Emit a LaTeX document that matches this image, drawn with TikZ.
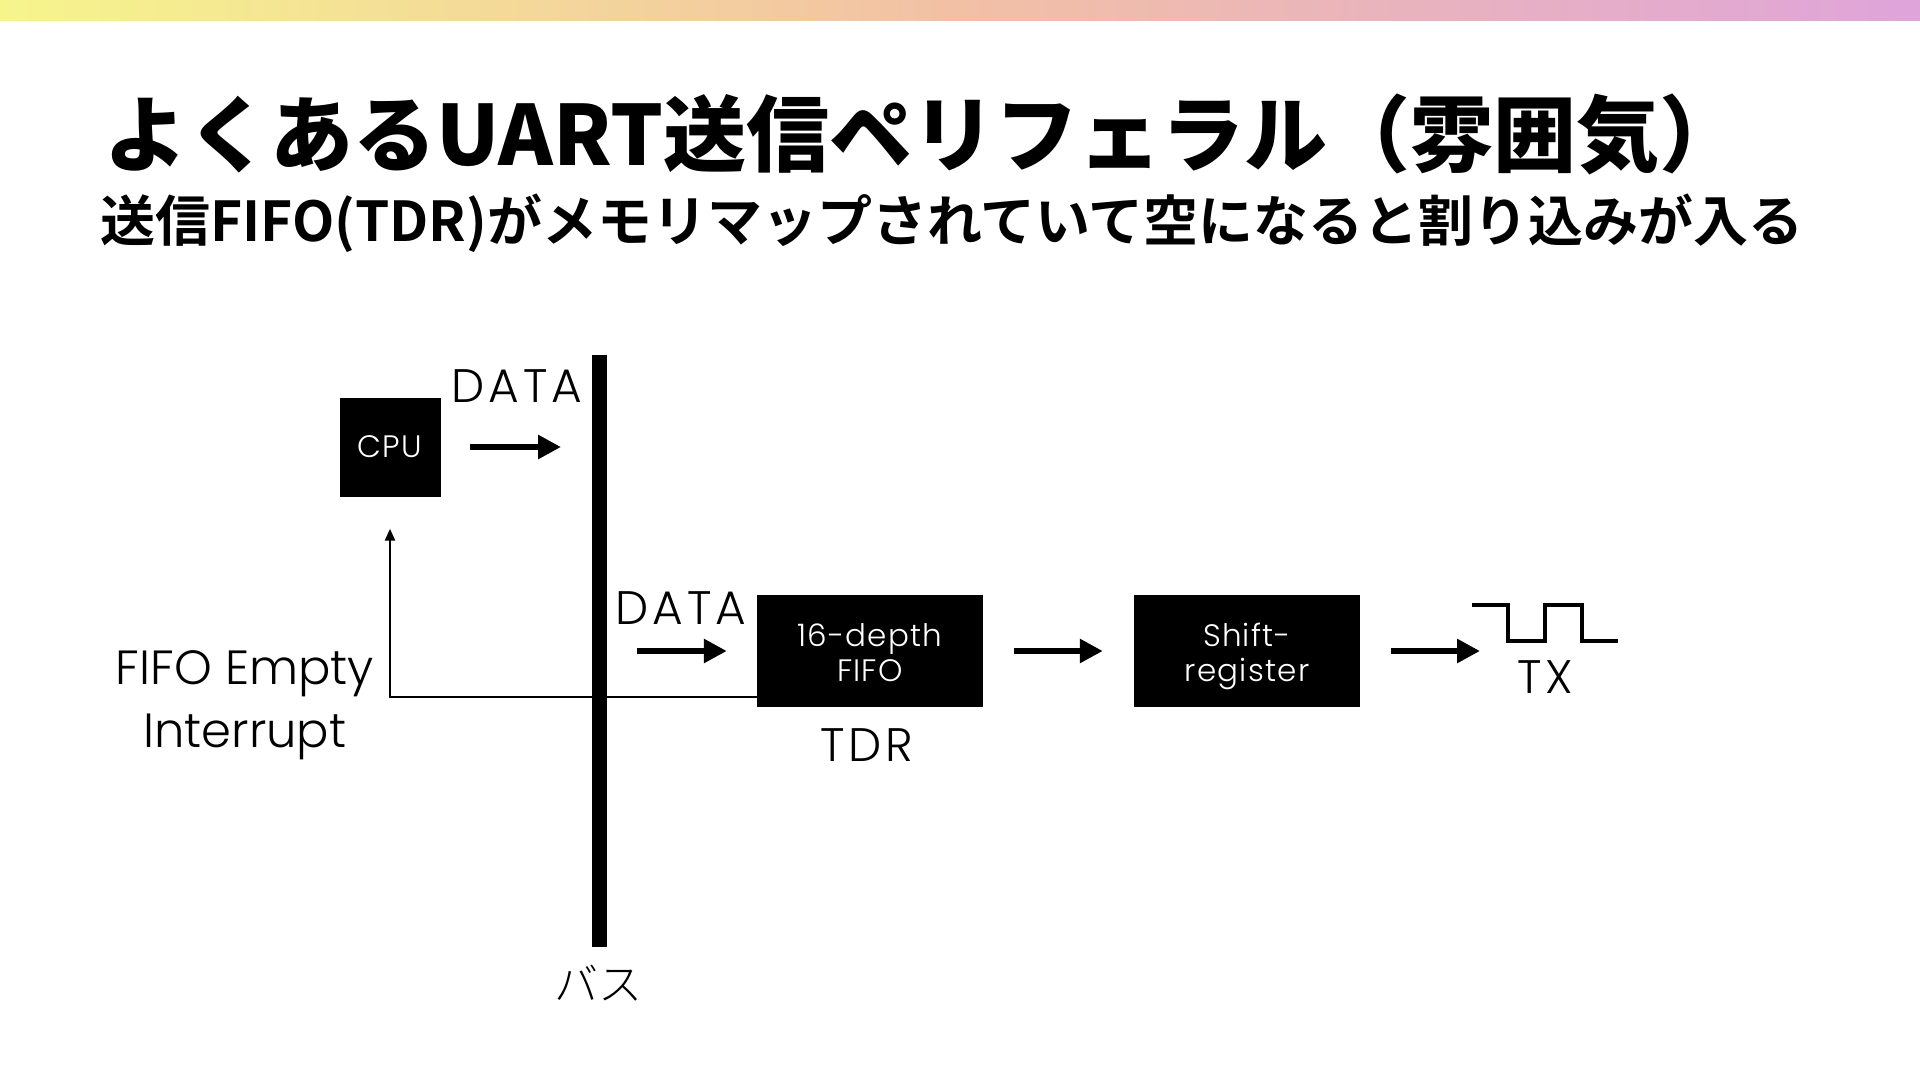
\documentclass[tikz,border=0pt]{standalone}
\usepackage{fontspec}
\usetikzlibrary{arrows.meta,positioning}
\newfontfamily\titlefont{Noto Sans CJK JP Black}
\newfontfamily\subfont{Noto Sans CJK JP Bold}
\newfontfamily\lblfont{Poppins Light}
\newfontfamily\capsfont{Poppins Light}[LetterSpace=8]
\newfontfamily\boxfont{Poppins Light}[LetterSpace=4]
\newfontfamily\jplight{Noto Sans CJK JP Light}
\newcommand{\tallstrut}{\rule{0pt}{36pt}}
\definecolor{barleft}{RGB}{246,245,140}
\definecolor{barmid}{RGB}{242,192,165}
\definecolor{barright}{RGB}{223,164,218}
\tikzset{
  blk/.style={draw=none, fill=black, text=white, align=center, minimum width=226pt, minimum height=112pt, inner sep=0pt, font=\boxfont\fontsize{31}{35}\selectfont},
  lbl/.style={inner sep=0pt, align=center, font=\lblfont\fontsize{48}{63}\selectfont},
  capslbl/.style={inner sep=0pt, font=\capsfont\fontsize{47}{56}\selectfont},
  bigarrow/.style={-{Triangle[length=23pt,width=23pt]}, line width=6.5pt},
  thinarrow/.style={-{Triangle[length=12pt,width=10pt]}, line width=2.5pt},
  busline/.style={line width=15pt},
  wave/.style={line width=3.5pt}
}

\begin{document}
\begin{tikzpicture}[x=1pt, y=-1pt]
  \fill[white] (0,0) rectangle (1920,1080);
  \useasboundingbox (0,0) rectangle (1920,1080);
  \shade[left color=barleft, right color=barright, middle color=barmid] (0,0) rectangle (1920,20);

  % headings
  \node[anchor=base west, inner sep=0pt, font=\titlefont\fontsize{83}{90}\selectfont] (title) at (104,165) {よくあるUART送信ペリフェラル（雰囲気）};
  \node[anchor=base west, inner sep=0pt, font=\subfont\fontsize{55}{64}\selectfont] (subtitle) at (100,241) {送信FIFO(TDR)がメモリマップされていて空になると割り込みが入る};

  % bus and blocks
  \coordinate (bustop) at (599,355);
  \coordinate (busbot) at (599,947);
  \draw[busline] (bustop) -- (busbot);
  \node[inner sep=0pt, font=\jplight\fontsize{44}{44}\selectfont] (buslbl) at (598,983) {バス};
  \node[blk, minimum width=101pt, minimum height=99pt] (cpu) at (390,447) {CPU};
  \node[blk] (fifo) at (870,651) {16-depth\tallstrut\\FIFO\strut};
  \node[blk] (shift) at (1247,651) {Shift-\tallstrut\\register\strut};

  \node[capslbl] (data1) at (517,386) {DATA};
  \node[capslbl] (data2) at (681,608) {DATA};
  \node[capslbl] (tdr) at (867,745) {TDR};
  \node[lbl] (irqlbl) at (245,705) {FIFO Empty\\Interrupt};
  \node[capslbl] (tx) at (1545,677) {TX};

  % TX waveform
  \coordinate (wavestart) at (1472,605);
  \draw[wave] (wavestart) -| (1508,641) -| (1545,605) -| (1582,641) -- (1618,641);

  % data flow
  \draw[bigarrow] ([xshift=29pt]cpu.east) -- ([xshift=-38pt]bustop |- cpu.east);
  \draw[bigarrow] ([xshift=38pt]bustop |- fifo.west) -- ([xshift=-30pt]fifo.west);
  \draw[bigarrow] ([xshift=31pt]fifo.east) -- ([xshift=-31pt]shift.west);
  \draw[bigarrow] ([xshift=31pt]shift.east) -- ([xshift=8pt]wavestart |- shift.east);

  % interrupt back to the CPU
  \draw[thinarrow] ([yshift=10pt]fifo.south west) -| ([yshift=-32pt]cpu.south);
\end{tikzpicture}
\end{document}
